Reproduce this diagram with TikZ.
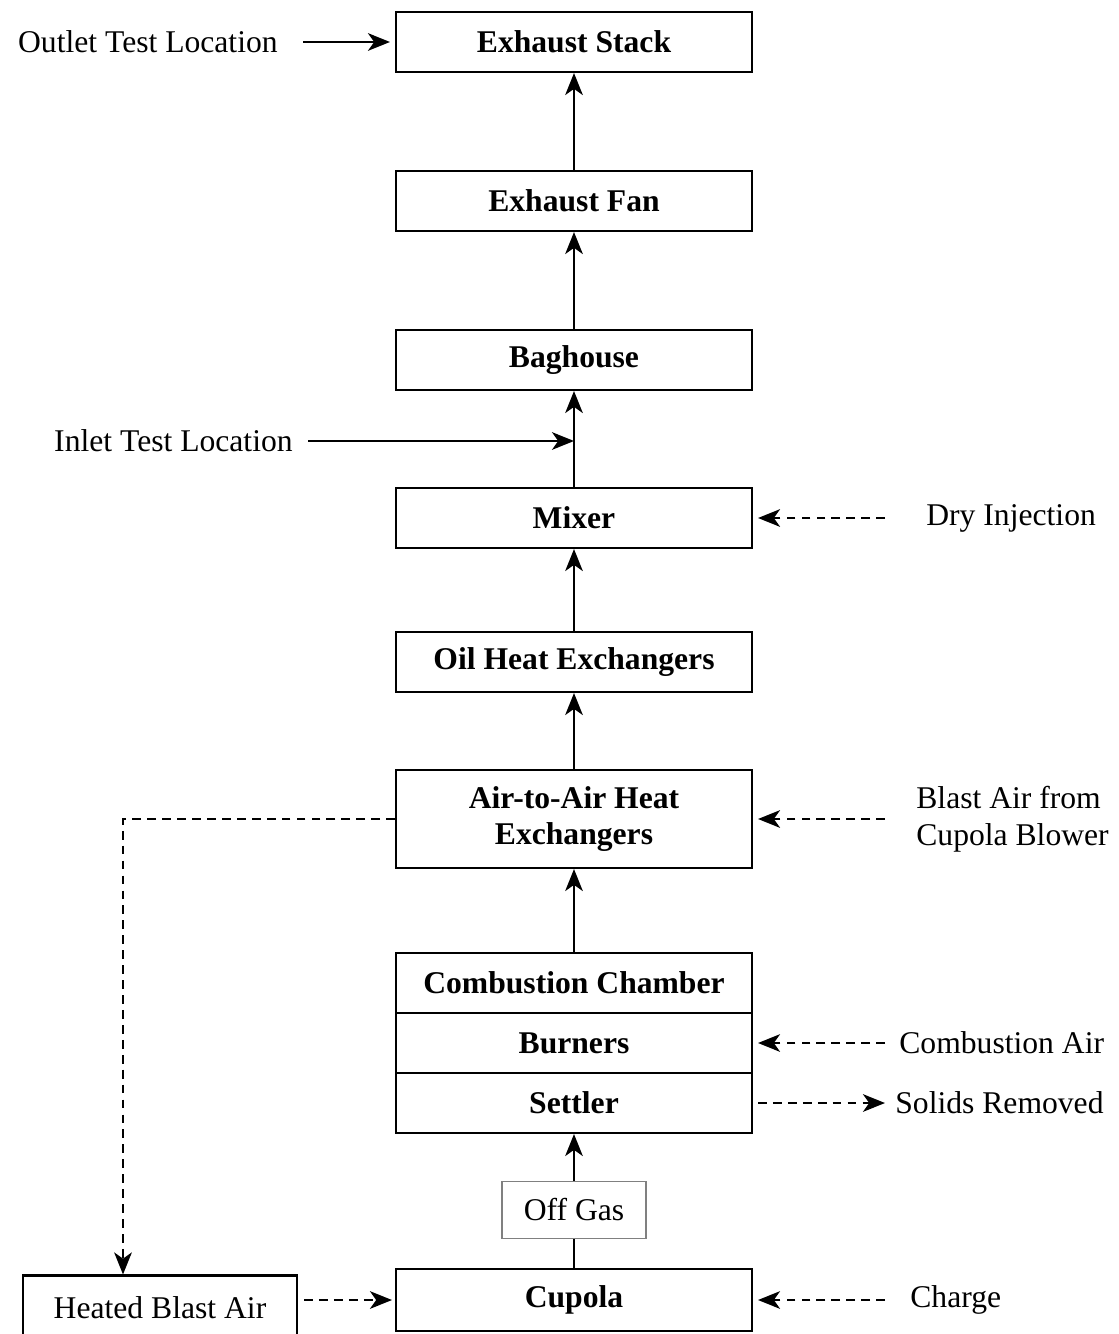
\documentclass[tikz,border=0pt]{standalone}
\usepackage{fontspec}
\setmainfont{Liberation Serif}
\usetikzlibrary{arrows.meta,positioning,calc}

\begin{document}
\begin{tikzpicture}[x=0.02cm,y=-0.02cm,
    box/.style={draw, line width=1.2pt, minimum width=7.12cm, minimum height=1.2cm,
      inner sep=0pt, align=center, font=\fontsize{18}{21}\selectfont\bfseries},
    note/.style={inner sep=0pt, align=left, font=\fontsize{18}{21}\selectfont},
    flow/.style={-{Stealth[length=12.5pt,width=10pt,inset=3.5pt]}, line width=1.4pt},
    feed/.style={flow, line width=1.5pt, dash pattern=on 5pt off 3.5pt}]
        \useasboundingbox (0,0) rectangle (1118,1334);
        % Main gas path
        \node[box] (stack) at (574,42) {Exhaust Stack};
        \node[box] (fan) at (574,201) {Exhaust Fan};
        \node[box] (bag) at (574,360) {Baghouse};
        \node[box] (mixer) at (574,518) {Mixer};
        \node[box] (oil) at (574,662) {Oil Heat Exchangers};
        \node[box, minimum height=1.96cm] (a2a) at (574,819) {Air-to-Air Heat\\Exchangers};
        \node[box] (comb) at (574,983) {Combustion Chamber};
        \node[box] (burn) at (574,1043) {Burners};
        \node[box] (settle) at (574,1103) {Settler};
        \node[draw=gray, line width=0.6pt, minimum width=2.88cm, minimum height=1.14cm,
          inner sep=0pt, font=\fontsize{18}{21}\selectfont] (offgas) at (574,1210) {Off Gas};
        \node[box, minimum height=1.24cm] (cupola) at (574,1300) {Cupola};
        \node[draw, line width=1.2pt, minimum width=5.48cm, minimum height=1.3cm,
          inner sep=0pt, font=\fontsize{18}{21}\selectfont] (heated) at (160,1308) {Heated Blast Air};
        % Side labels
        \node[note, anchor=east] (outlet) at (278,42) {Outlet Test Location};
        \node[note, anchor=east] (inlet) at (293,441) {Inlet Test Location};
        \node[note, anchor=west] (dry) at (926,518) {Dry Injection};
        \node[note, anchor=west] (blast) at (916,819) {Blast Air from\\Cupola Blower};
        \node[note, anchor=west] (combair) at (899,1043) {Combustion Air};
        \node[note, anchor=west] (solids) at (895,1103) {Solids Removed};
        \node[note, anchor=west] (charge) at (910,1300) {Charge};
        \coordinate (tap) at (574,441);
        \coordinate (bend) at (123,819);
        % Upward flow
        \draw[flow] (fan) -- (stack);
        \draw[flow] (bag) -- (fan);
        \draw[flow] (mixer) -- (bag);
        \draw[flow] (oil) -- (mixer);
        \draw[flow] (a2a) -- (oil);
        \draw[flow] (comb) -- (a2a);
        \draw[flow] (offgas) -- (settle);
        \draw[line width=1.4pt] (cupola) -- (offgas);
        % Test locations
        \draw[flow, shorten <=0.5cm, shorten >=0.1cm] (outlet.east) -- (stack.west);
        \draw[flow, shorten <=0.3cm] (inlet.east) -- (tap);
        % Feeds in and out
        \draw[feed, shorten <=0.82cm, shorten >=0.1cm] (dry.west) -- (mixer.east);
        \draw[feed, shorten <=0.62cm, shorten >=0.1cm] (blast.west) -- (a2a.east);
        \draw[feed, shorten <=0.28cm, shorten >=0.1cm] (combair.west) -- (burn.east);
        \draw[feed, shorten <=0.1cm, shorten >=0.2cm] (settle.east) -- (solids.west);
        \draw[feed, shorten <=0.5cm, shorten >=0.1cm] (charge.west) -- (cupola.west -| cupola.east);
        \draw[feed, shorten <=0.12cm, shorten >=0.06cm] (heated.east |- cupola.west) -- (cupola.west);
        \draw[feed] (a2a.west) -- (bend) -- (bend |- heated.north);
      \end{tikzpicture}
\end{document}
